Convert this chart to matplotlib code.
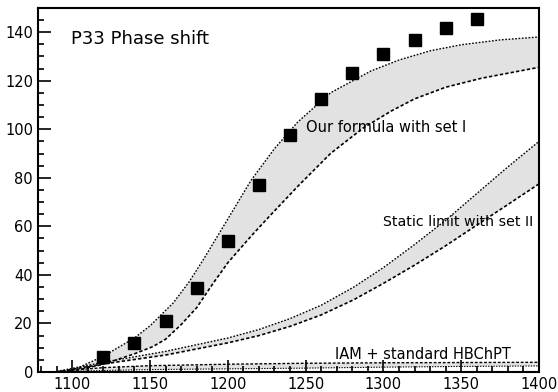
import matplotlib.pyplot as plt
from matplotlib.ticker import MultipleLocator

# data points (P33 phase shift)
x_data = [1120, 1140, 1160, 1180, 1200, 1220, 1240, 1260, 1280, 1300, 1320, 1340, 1360]
y_data = [6.0, 12.1, 21.0, 34.6, 54.0, 77.0, 97.5, 112.3, 123.0, 131.0, 136.7, 141.5, 145.5]

# band "Our formula with set I"
x_set1_up = [1088, 1100, 1120, 1140, 1150, 1165, 1175, 1184, 1200, 1215, 1230, 1245, 1266, 1292, 1310, 1330, 1350, 1375, 1400]
y_set1_up = [0.0, 0.6, 6.5, 14.0, 19.0, 28.5, 37.0, 46.0, 63.0, 79.0, 92.0, 103.0, 115.0, 124.0, 128.5, 132.3, 134.8, 136.8, 138.0]
x_set1_lo = [1092, 1100, 1120, 1140, 1152, 1160, 1170, 1180, 1190, 1200, 1215, 1228, 1245, 1266, 1287, 1305, 1320, 1340, 1363, 1400]
y_set1_lo = [0.0, 0.3, 3.2, 7.5, 10.5, 13.5, 19.5, 26.5, 36.0, 45.0, 56.0, 65.0, 76.5, 90.0, 100.5, 107.5, 112.5, 117.3, 121.0, 125.5]

# band "Static limit with set II"
x_set2_up = [1088, 1120, 1160, 1200, 1220, 1240, 1260, 1281, 1300, 1320, 1340, 1360, 1380, 1400]
y_set2_up = [0.0, 4.0, 8.5, 14.0, 17.5, 22.0, 27.5, 35.0, 43.0, 52.5, 62.5, 73.5, 84.5, 95.0]
x_set2_lo = [1090, 1120, 1160, 1200, 1220, 1240, 1260, 1281, 1300, 1320, 1340, 1360, 1380, 1400]
y_set2_lo = [0.0, 3.3, 7.0, 12.0, 15.0, 18.8, 23.5, 29.8, 36.5, 44.0, 52.0, 60.5, 69.0, 77.5]

# band "IAM + standard HBChPT"
x_iam = [1088, 1100, 1120, 1150, 1200, 1250, 1300, 1350, 1400]
y_iam_up = [0.0, 0.8, 1.8, 2.6, 3.2, 3.6, 3.8, 3.9, 4.0]
y_iam_lo = [0.0, 0.3, 0.6, 1.0, 1.3, 1.6, 2.0, 2.3, 2.5]

fill_color = '#e2e2e2'
dots = (0, (1.2, 1.2))
dashes = (0, (2.0, 1.3))

fig = plt.figure(figsize=(5.58, 3.92), dpi=100)
ax = fig.add_axes([0.068, 0.051, 0.898, 0.929])

ax.fill(x_set1_up + x_set1_lo[::-1], y_set1_up + y_set1_lo[::-1], color=fill_color, lw=0)
ax.fill(x_set2_up + x_set2_lo[::-1], y_set2_up + y_set2_lo[::-1], color=fill_color, lw=0)
ax.fill(x_iam + x_iam[::-1], y_iam_up + y_iam_lo[::-1], color=fill_color, lw=0)

ax.plot(x_set1_up, y_set1_up, color='black', lw=1.0, ls=dots)
ax.plot(x_set1_lo, y_set1_lo, color='black', lw=1.2, ls=dashes)
ax.plot(x_set2_up, y_set2_up, color='black', lw=1.0, ls=dots)
ax.plot(x_set2_lo, y_set2_lo, color='black', lw=1.2, ls=dashes)
ax.plot(x_iam, y_iam_up, color='black', lw=1.0, ls=dashes)
ax.plot(x_iam, y_iam_lo, color='black', lw=0.8, ls=dots)

ax.plot(x_data, y_data, 's', color='black', markersize=9)

ax.text(1099, 135, 'P33 Phase shift', fontsize=13)
ax.text(1250, 99, 'Our formula with set I', fontsize=10.5)
ax.text(1300, 60, 'Static limit with set II', fontsize=10.2)
ax.text(1269, 5.3, 'IAM + standard HBChPT', fontsize=10.5)

ax.set_xlim(1078, 1400)
ax.set_ylim(0, 150)
ax.xaxis.set_major_locator(MultipleLocator(50))
ax.xaxis.set_minor_locator(MultipleLocator(10))
ax.yaxis.set_major_locator(MultipleLocator(20))
ax.yaxis.set_minor_locator(MultipleLocator(5))
ax.tick_params(which='both', direction='in', top=False, right=False, labelsize=10.5, width=1.2)
ax.tick_params(which='major', length=9)
ax.tick_params(which='minor', length=4.5)
for s in ax.spines.values():
    s.set_linewidth(1.5)

fig.savefig('out.png', dpi=100)
